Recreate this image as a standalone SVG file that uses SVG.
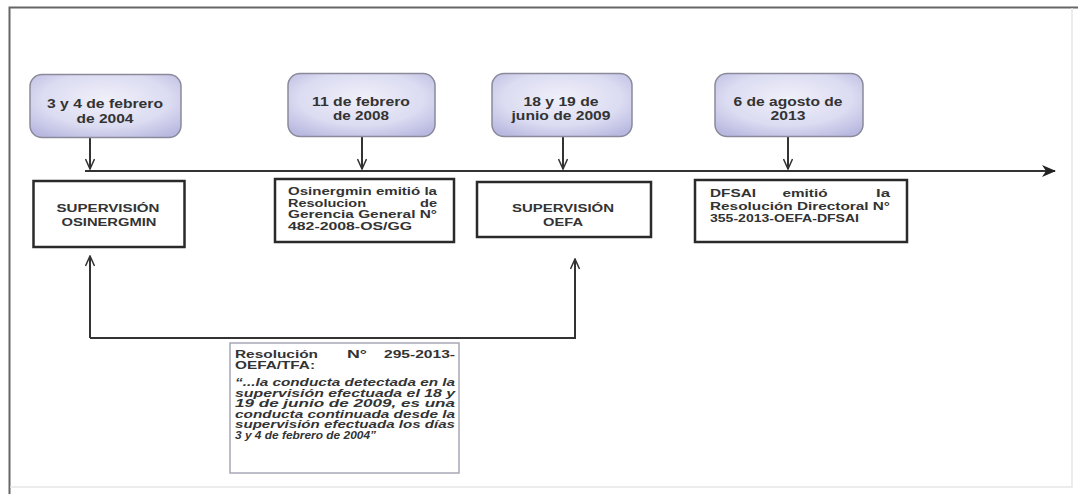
<svg xmlns="http://www.w3.org/2000/svg" width="1078" height="494" viewBox="0 0 1078 494">
<style>
.t{font-family:"Liberation Sans",Arial,sans-serif;font-weight:bold;fill:#333;}
.d{font-size:12.5px;text-anchor:middle;}
.b{font-size:11px;}
.s{font-size:11.5px;text-anchor:middle;}
.q{font-size:10px;font-style:italic;}
.r{font-size:10px;}
.date{fill:url(#g);stroke:#8a8a9a;stroke-width:1.5;}
.box{fill:#fff;stroke:#2a2a2a;stroke-width:2.5;}
.ln{stroke:#333;stroke-width:2;fill:none;}
</style>
<defs>
<radialGradient id="g" cx="50%" cy="40%" r="70%">
<stop offset="0" stop-color="#f0f0fa"/>
<stop offset="0.6" stop-color="#dcdcf2"/>
<stop offset="1" stop-color="#b8b8e0"/>
</radialGradient>
<marker id="v" viewBox="0 0 12 10" refX="11" refY="5" markerWidth="12" markerHeight="10" markerUnits="userSpaceOnUse" orient="auto">
<path d="M1,0.5 L11,5 L1,9.5" fill="none" stroke="#333" stroke-width="1.5"/>
</marker>
<marker id="a" viewBox="0 0 14 12" refX="13" refY="6" markerWidth="14" markerHeight="12" markerUnits="userSpaceOnUse" orient="auto">
<path d="M0,0 L14,6 L0,12 L4,6 Z" fill="#222"/>
</marker>
</defs>
<rect width="1078" height="494" fill="#fff"/>
<g id="frame">
<path d="M9.5,494 V7.5 H1078" fill="none" stroke="#666" stroke-width="2"/>
<path d="M10,487 H1072 V8" fill="none" stroke="#e6e6e6" stroke-width="1.5"/>
</g>
<g id="connectors">
<path class="ln" d="M85,171 H1055" stroke="#3a3f38" stroke-width="2.5" marker-end="url(#a)"/>
<path class="ln" d="M90,138 V169" stroke-width="1.5" marker-end="url(#v)"/>
<path class="ln" d="M362,137 V169" stroke-width="1.5" marker-end="url(#v)"/>
<path class="ln" d="M563,137 V169" stroke-width="1.5" marker-end="url(#v)"/>
<path class="ln" d="M788,137 V169" stroke-width="1.5" marker-end="url(#v)"/>
<path class="ln" d="M90,338 V256" stroke-width="2.5" marker-end="url(#v)"/>
<path class="ln" d="M90,338 H575 V259" stroke-width="2.5" marker-end="url(#v)"/>
</g>
<g id="date1">
<rect class="date" x="30" y="74.5" width="151" height="63" rx="12"/>
<text class="t d" x="105" y="108" textLength="116" lengthAdjust="spacingAndGlyphs">3 y 4 de febrero</text>
<text class="t d" x="105" y="123" textLength="57" lengthAdjust="spacingAndGlyphs">de 2004</text>
</g>
<g id="date2">
<rect class="date" x="288" y="73.5" width="147" height="63" rx="12"/>
<text class="t d" x="361" y="106" textLength="98" lengthAdjust="spacingAndGlyphs">11 de febrero</text>
<text class="t d" x="361" y="120" textLength="56" lengthAdjust="spacingAndGlyphs">de 2008</text>
</g>
<g id="date3">
<rect class="date" x="492" y="73.5" width="140" height="63" rx="12"/>
<text class="t d" x="561" y="106" textLength="75" lengthAdjust="spacingAndGlyphs">18 y 19 de</text>
<text class="t d" x="561" y="120" textLength="99" lengthAdjust="spacingAndGlyphs">junio de 2009</text>
</g>
<g id="date4">
<rect class="date" x="715" y="73.5" width="148" height="63" rx="12"/>
<text class="t d" x="788" y="106" textLength="109" lengthAdjust="spacingAndGlyphs">6 de agosto de</text>
<text class="t d" x="788" y="120" textLength="35" lengthAdjust="spacingAndGlyphs">2013</text>
</g>
<g id="sup-osinergmin">
<rect class="box" x="33.5" y="181" width="151" height="66"/>
<text class="t s" x="108" y="212" textLength="103" lengthAdjust="spacingAndGlyphs">SUPERVISIÓN</text>
<text class="t s" x="109" y="226" textLength="95" lengthAdjust="spacingAndGlyphs">OSINERGMIN</text>
</g>
<g id="res-osinergmin">
<rect class="box" x="275" y="179" width="179" height="63"/>
<text class="t b" x="288" y="195" textLength="149" lengthAdjust="spacingAndGlyphs">Osinergmin emitió la</text>
<text class="t b" x="288" y="206.5" textLength="78" lengthAdjust="spacingAndGlyphs">Resolucion</text>
<text class="t b" x="437" y="206.5" text-anchor="end" textLength="17" lengthAdjust="spacingAndGlyphs">de</text>
<text class="t b" x="288" y="218" textLength="149" lengthAdjust="spacingAndGlyphs">Gerencia General N°</text>
<text class="t b" x="288" y="229.5" textLength="124" lengthAdjust="spacingAndGlyphs">482-2008-OS/GG</text>
</g>
<g id="sup-oefa">
<rect class="box" x="477" y="182" width="174" height="55"/>
<text class="t s" x="563" y="212" textLength="102" lengthAdjust="spacingAndGlyphs">SUPERVISIÓN</text>
<text class="t s" x="563" y="226" textLength="40" lengthAdjust="spacingAndGlyphs">OEFA</text>
</g>
<g id="res-dfsai">
<rect class="box" x="695" y="180" width="212" height="62"/>
<text class="t b" x="710" y="197" textLength="46" lengthAdjust="spacingAndGlyphs">DFSAI</text>
<text class="t b" x="805" y="197" text-anchor="middle" textLength="45" lengthAdjust="spacingAndGlyphs">emitió</text>
<text class="t b" x="890" y="197" text-anchor="end" textLength="14" lengthAdjust="spacingAndGlyphs">la</text>
<text class="t b" x="710" y="209.5" textLength="180" lengthAdjust="spacingAndGlyphs">Resolución Directoral N°</text>
<text class="t b" x="710" y="222" textLength="149" lengthAdjust="spacingAndGlyphs">355-2013-OEFA-DFSAI</text>
</g>
<g id="quote">
<rect x="230" y="343" width="229" height="130" fill="#fff" stroke="#a8a8b8" stroke-width="1.5"/>
<text class="t r" x="235" y="358" textLength="83" lengthAdjust="spacingAndGlyphs">Resolución</text>
<text class="t r" x="357" y="358" text-anchor="middle" textLength="20" lengthAdjust="spacingAndGlyphs">N°</text>
<text class="t r" x="455" y="358" text-anchor="end" textLength="71" lengthAdjust="spacingAndGlyphs">295-2013-</text>
<text class="t r" x="235" y="368.5" textLength="80" lengthAdjust="spacingAndGlyphs">OEFA/TFA:</text>
<text class="t q" x="235" y="386" textLength="220" lengthAdjust="spacingAndGlyphs">“...la conducta detectada en la</text>
<text class="t q" x="235" y="396.5" textLength="220" lengthAdjust="spacingAndGlyphs">supervisión efectuada el 18 y</text>
<text class="t q" x="235" y="407" textLength="220" lengthAdjust="spacingAndGlyphs">19 de junio de 2009, es una</text>
<text class="t q" x="235" y="417.5" textLength="220" lengthAdjust="spacingAndGlyphs">conducta continuada desde la</text>
<text class="t q" x="235" y="428" textLength="220" lengthAdjust="spacingAndGlyphs">supervisión efectuada los días</text>
<text class="t q" x="235" y="438.5" textLength="141" lengthAdjust="spacingAndGlyphs">3 y 4 de febrero de 2004”</text>
</g>
</svg>
